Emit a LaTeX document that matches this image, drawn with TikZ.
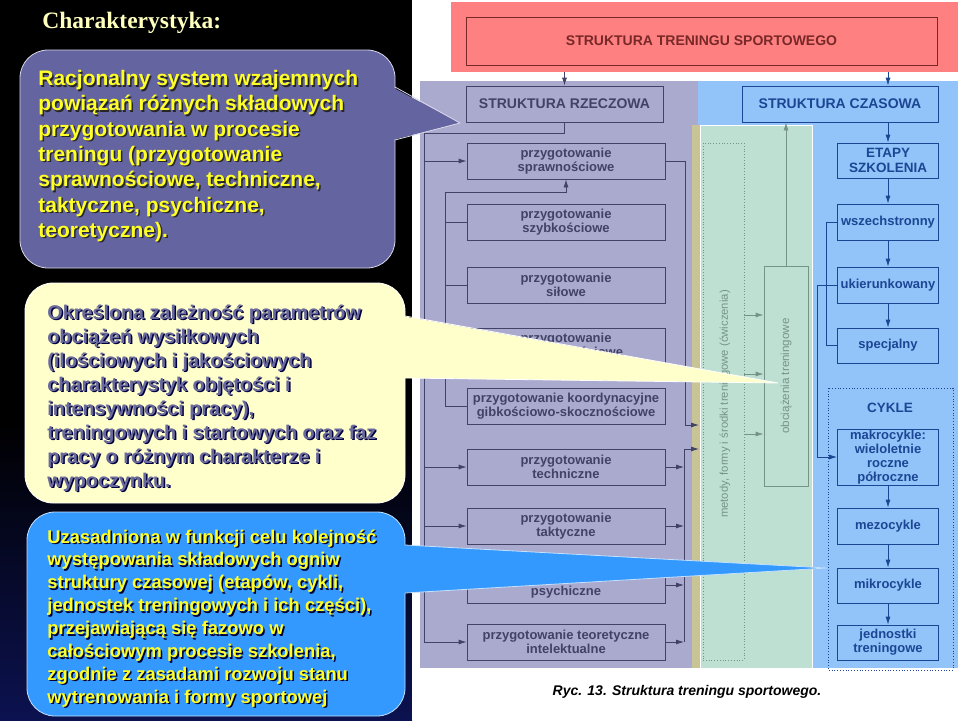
\documentclass[tikz,border=0pt]{standalone}
\usepackage{fontspec}
\setmainfont{Liberation Sans}
\newfontfamily\titlefont{Liberation Serif}
\usetikzlibrary{arrows.meta}

\definecolor{lavbg}{RGB}{170,170,206}
\definecolor{lavln}{RGB}{66,66,102}
\definecolor{bluebg}{RGB}{146,196,250}
\definecolor{blueln}{RGB}{28,70,148}
\definecolor{greenbg}{RGB}{190,224,210}
\definecolor{greenln}{RGB}{118,148,134}
\definecolor{tanstrip}{RGB}{200,196,150}
\definecolor{redbg}{RGB}{255,128,128}
\definecolor{redln}{RGB}{120,40,40}
\definecolor{purplecall}{RGB}{100,100,160}
\definecolor{yellowcall}{RGB}{255,255,204}
\definecolor{bluecall}{RGB}{51,153,255}
\definecolor{yellowtxt}{RGB}{255,255,40}
\definecolor{greytxt}{RGB}{105,105,155}
\definecolor{titletxt}{RGB}{255,255,190}
\definecolor{navy}{RGB}{12,18,80}

\newcommand{\racjtext}{Racjonalny system wzajemnych\\ powiązań różnych składowych\\ przygotowania w procesie\\ treningu (przygotowanie\\ sprawnościowe, techniczne,\\ taktyczne, psychiczne,\\ teoretyczne).}
\newcommand{\okrtext}{Określona zależność parametrów\\ obciążeń wysiłkowych\\ (ilościowych i jakościowych\\ charakterystyk objętości i\\ intensywności pracy),\\ treningowych i startowych oraz faz\\ pracy o różnym charakterze i\\ wypoczynku.}
\newcommand{\uzatext}{Uzasadniona w funkcji celu kolejność\\ występowania składowych ogniw\\ struktury czasowej (etapów, cykli,\\ jednostek treningowych i ich części),\\ przejawiającą się fazowo w\\ całościowym procesie szkolenia,\\ zgodnie z zasadami rozwoju stanu\\ wytrenowania i formy sportowej}

\tikzset{
  pbox/.style={draw=lavln, text=lavln, minimum width=198pt, minimum height=36pt,
    align=center, inner sep=0pt, font=\bfseries\fontsize{13}{14}\selectfont},
  tbox/.style={draw=blueln, text=blueln, minimum width=101pt, minimum height=36pt,
    align=center, inner sep=0pt, font=\bfseries\fontsize{13}{14}\selectfont},
  arr/.style={-{Latex[length=8pt,width=5pt]}},
  calltxt/.style={anchor=base west, inner sep=0pt, align=left}
}

\begin{document}
\begin{tikzpicture}[x=1pt,y=-1pt,line width=0.8pt]
  \useasboundingbox (0,0) rectangle (960,720);

  %background%
  \fill[black] (0,0) rectangle (960,720);
  \shade[top color=black, bottom color=navy] (0,420) rectangle (412,720);
  \fill[white] (412,0) rectangle (960,720);

  %top%
  \node[fill=redbg, minimum width=507pt, minimum height=70pt] (tsbg) at (704.5,37) {};
  \node[draw=redln, minimum width=471pt, minimum height=48pt, text=redln,
        font=\bfseries\fontsize{14}{16}\selectfont] (tsport) at (701.5,41) {STRUKTURA TRENINGU SPORTOWEGO};

  %regions%
  \fill[lavbg] (420,81) rectangle (698,668);
  \fill[bluebg] (698,81) rectangle (958,668);
  \fill[tanstrip] (692,125) rectangle (700,668);
  \filldraw[fill=greenbg, draw=white] (700,125) rectangle (812,668);

  %rzeczowa%
  \node[pbox, minimum width=197pt, font=\bfseries\fontsize{14}{16}\selectfont] (rzecz) at (564.5,104) {STRUKTURA RZECZOWA};
  \node[pbox] (spraw) at (566,161) {przygotowanie\\sprawnościowe};
  \node[pbox] (szyb) at (566,222) {przygotowanie\\szybkościowe};
  \node[pbox] (silo) at (566,285) {przygotowanie\\siłowe};
  \node[pbox] (wytrz) at (566,346) {przygotowanie\\wytrzymałościowe};
  \node[pbox] (koord) at (566,406) {przygotowanie koordynacyjne\\gibkościowo-skocznościowe};
  \node[pbox] (tech) at (566,467) {przygotowanie\\techniczne};
  \node[pbox] (takt) at (566,526) {przygotowanie\\taktyczne};
  \node[pbox] (psych) at (566,585) {przygotowanie\\psychiczne};
  \node[pbox] (teor) at (566,642) {przygotowanie teoretyczne\\intelektualne};

  \coordinate (lbus) at (424,133);
  \draw[lavln] (rzecz.south) |- (lbus);
  \draw[arr, lavln] (lbus) |- (teor.west);
  \foreach \bx in {spraw,tech,takt,psych}
    \draw[arr, lavln] (lbus |- \bx.west) -- (\bx.west);

  \coordinate (sbus) at (445,192);
  \draw[arr, lavln] (sbus) -| (spraw.south);
  \draw[lavln] (sbus) |- (koord.west);
  \foreach \bx in {szyb,silo,wytrz}
    \draw[lavln] (sbus |- \bx.west) -- (\bx.west);

  \coordinate (rbusa) at (685,425);
  \draw[lavln] (spraw.east) -| (rbusa);
  \draw[arr, lavln] (rbusa) -- ++(14,0);
  \coordinate (rbusb) at (684,449);
  \draw[arr, lavln] (rbusb) -- ++(15,0);
  \draw[lavln] (rbusb) -- (rbusb |- teor.east);
  \foreach \bx in {tech,takt,psych,teor}
    \draw[arr, lavln] (\bx.east) -- (rbusb |- \bx.east);

  %czasowa%
  \node[tbox, minimum width=196pt, font=\bfseries\fontsize{14}{16}\selectfont] (czas) at (840,104) {STRUKTURA CZASOWA};
  \node[tbox, minimum height=35pt, font=\bfseries\fontsize{13.5}{15}\selectfont] (etapy) at (888,160.5) {ETAPY\\SZKOLENIA};
  \node[tbox] (wszech) at (888,222) {wszechstronny};
  \node[tbox] (ukier) at (888,285) {ukierunkowany};
  \node[tbox, minimum height=35pt] (spec) at (888,345.5) {specjalny};
  \draw[blueln, dotted] (828,388) rectangle (953,670);
  \node[text=blueln, font=\bfseries\fontsize{13.5}{15}\selectfont] (cykle) at (890,408) {CYKLE};
  \node[tbox, minimum height=56pt] (makro) at (888,457) {makrocykle:\\wieloletnie\\roczne\\półroczne};
  \node[tbox] (mezo) at (888,526) {mezocykle};
  \node[tbox, minimum height=35pt] (mikro) at (888,585.5) {mikrocykle};
  \node[tbox, minimum height=35pt] (jedn) at (888,642.5) {jednostki\\treningowe};

  \path[arr, color=blueln]
    (etapy) edge (wszech)
    (wszech) edge (ukier)
    (ukier) edge (spec)
    (makro) edge (mezo)
    (mezo) edge (mikro)
    (mikro) edge (jedn);
  \draw[blueln] (wszech.west) -- ++(-11,0) |- (spec.west);
  \draw[arr, blueln] (ukier.west) -- ++(-20,0) |- (makro.west);

  %top arrows%
  \draw[arr, lavln] (rzecz.north |- tsbg.south) -- (rzecz.north);
  \draw[arr, blueln] (etapy.north |- tsbg.south) -- (etapy.north |- czas.north);
  \draw[arr, blueln] (czas.south -| etapy.north) -- (etapy.north);

  %green%
  \node[draw=greenln, dotted, minimum width=41pt, minimum height=517pt] (metody) at (723.5,401.5) {};
  \node[rotate=90, text=greenln, font=\fontsize{11.3}{13}\selectfont] at (725,404) {metody, formy i środki treningowe (ćwiczenia)};
  \node[draw=greenln, minimum width=44pt, minimum height=220pt] (obc) at (786,376) {};
  \node[rotate=90, text=greenln, font=\fontsize{11.6}{13}\selectfont] at (obc) {obciążenia treningowe};
  \foreach \yy in {315,374,434}
    \draw[arr, greenln] (metody.east |- 0,\yy) -- (obc.west |- 0,\yy);
  \draw[arr, greenln] (obc.north) -- (obc.north |- czas.south);

  \node[font=\bfseries\itshape\fontsize{14}{16}\selectfont] (ryc) at (687,692) {Ryc. 13. Struktura treningu sportowego.};

  %title%
  \node[anchor=base west, inner sep=0pt, text=titletxt, font=\titlefont\bfseries\fontsize{23.5}{26}\selectfont] (ttl) at (42,28) {Charakterystyka:};

  %callouts%
  \filldraw[fill=purplecall, draw=white!75!purplecall, rounded corners=28pt] (20,50) rectangle (395,268);
  \fill[purplecall] (392,87) -- (460,123) -- (392,140) -- cycle;
  \draw[white!75!purplecall] (395,87) -- (460,123) -- (395,140);
  \node[calltxt, text=black!85, font=\bfseries\fontsize{21}{25.3}\selectfont] at (39.5,238.8) {\racjtext};
  \node[calltxt, text=yellowtxt, font=\bfseries\fontsize{21}{25.3}\selectfont] (racj) at (38,237.3) {\racjtext};

  \filldraw[fill=yellowcall, draw=white, rounded corners=28pt] (25,283) rectangle (405,503);
  \fill[yellowcall] (402,316) -- (778,383) -- (402,378) -- cycle;
  \draw[white] (405,316) -- (778,383) -- (405,378);
  \node[calltxt, text=black!75!blue, font=\bfseries\fontsize{19.8}{24}\selectfont] at (48.5,488.5) {\okrtext};
  \node[calltxt, text=greytxt, font=\bfseries\fontsize{19.8}{24}\selectfont] (okr) at (47,487) {\okrtext};

  \filldraw[fill=bluecall, draw=white!70!bluecall, rounded corners=28pt] (27,512) rectangle (405,716);
  \fill[bluecall] (402,545) -- (827,568) -- (402,593) -- cycle;
  \draw[white!70!bluecall] (405,545) -- (827,568) -- (405,593);
  \node[calltxt, text=black!80!blue, font=\bfseries\fontsize{18.4}{22.9}\selectfont] at (48.5,704.8) {\uzatext};
  \node[calltxt, text=yellowtxt, font=\bfseries\fontsize{18.4}{22.9}\selectfont] (uza) at (47,703.3) {\uzatext};
\end{tikzpicture}
\end{document}
